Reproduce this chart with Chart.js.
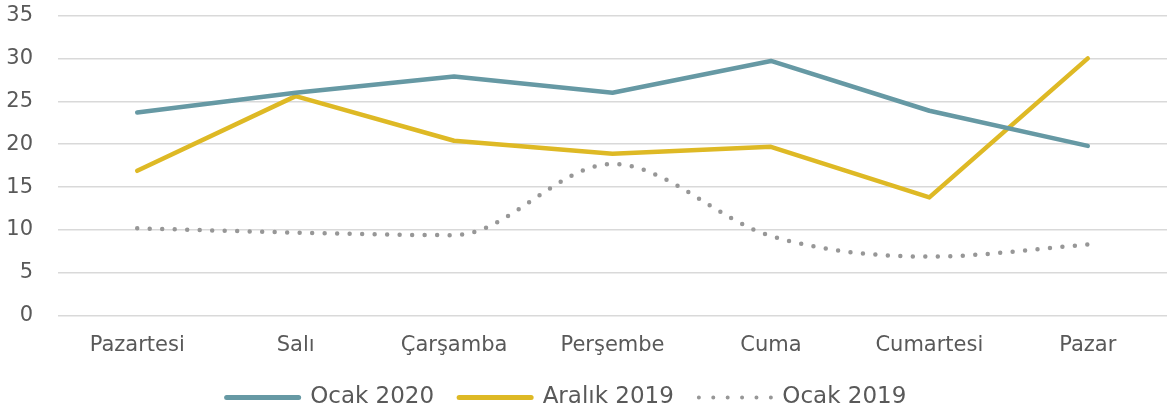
<!DOCTYPE html>
<html>
<head>
<meta charset="utf-8">
<style>
html, body { margin: 0; padding: 0; background: #fff; }
#chart_container {
  width: 1172px;
  height: 415px;
}
</style>
</head>
<body>
<div id="chart_container">
  <canvas id="myChart"></canvas>
</div>

<script src="https://cdn.jsdelivr.net/npm/chart.js"></script>

<script>
// days of the week and the three series
const days = ['Pazartesi', 'Salı', 'Çarşamba', 'Perşembe', 'Cuma', 'Cumartesi', 'Pazar'];
const ocak2020 = [23.7, 26.0, 27.9, 26.0, 29.7, 23.9, 19.8];
const aralik2019 = [16.9, 25.6, 20.4, 18.9, 19.7, 13.8, 30.0];
const ocak2019 = [10.2, 9.7, 9.4, 17.7, 9.3, 6.9, 8.3];
const yTicks = [0, 5, 10, 15, 20, 25, 30, 35];

const fontFamily = '"DejaVu Sans", sans-serif';
const textColor = '#595959';

// the legend in the picture sits a bit left of centre
const legendShift = {
  id: 'legendShift',
  afterLayout(chart) {
    chart.legend.left -= 20;
    chart.legend.right -= 20;
  }
};

const ctx = document.getElementById('myChart');

let chart = new Chart(ctx, {
  type: 'line',
  data: {
    labels: days,
    datasets: [{
      label: 'Ocak 2020',
      data: ocak2020,
      borderColor: '#6699A4',
      backgroundColor: '#6699A4',
      borderWidth: 4.5,
      borderCapStyle: 'round',
      borderJoinStyle: 'round',
      pointRadius: 0,
      tension: 0
    }, {
      label: 'Aralık 2019',
      data: aralik2019,
      borderColor: '#DEB925',
      backgroundColor: '#DEB925',
      borderWidth: 4.5,
      borderCapStyle: 'round',
      borderJoinStyle: 'round',
      pointRadius: 0,
      tension: 0
    }, {
      label: 'Ocak 2019',
      data: ocak2019,
      borderColor: '#979797',
      backgroundColor: '#979797',
      borderWidth: 4.5,
      borderCapStyle: 'round',
      borderDash: [0, 12.5],
      pointRadius: 0,
      cubicInterpolationMode: 'monotone'
    }]
  },
  options: {
    responsive: true,
    maintainAspectRatio: false,
    animation: false,
    layout: {
      padding: { top: 15.5, left: 6, right: 5, bottom: -4 }
    },
    plugins: {
      tooltip: { enabled: false },
      legend: {
        position: 'bottom',
        labels: {
          usePointStyle: true,
          pointStyle: 'line',
          pointStyleWidth: 72,
          boxHeight: 5,
          padding: 25,
          color: textColor,
          font: { family: fontFamily, size: 23 },
          generateLabels: function (c) {
            const items = Chart.defaults.plugins.legend.labels.generateLabels(c);
            items.forEach(it => {
              it.lineCap = 'round';
              it.lineWidth = 5;
              it.lineDash = [];
            });
            items[2].lineDash = [0, 14.4];
            items[2].lineWidth = 4;
            return items;
          }
        }
      }
    },
    scales: {
      x: {
        offset: true,
        grid: { display: false, drawTicks: false },
        border: { display: false },
        ticks: {
          color: textColor,
          font: { family: fontFamily, size: 21 },
          padding: 17,
          maxRotation: 0
        },
        afterFit: function (scale) {
          scale.height -= 14;
          scale.paddingLeft = 0;
          scale.paddingRight = 0;
        }
      },
      y: {
        min: 0,
        max: 35,
        afterBuildTicks: function (axis) {
          axis.ticks = yTicks.map(v => ({ value: v }));
        },
        grid: {
          color: '#D9D9D9',
          lineWidth: 1.5,
          drawTicks: false
        },
        border: { display: false },
        ticks: {
          color: textColor,
          font: { family: fontFamily, size: 21 },
          padding: 25
        },
        afterFit: function (scale) {
          scale.width = 52;
          scale.paddingTop = 0;
          scale.paddingBottom = 0;
        }
      }
    }
  },
  plugins: [legendShift]
});
</script>
</body>
</html>
